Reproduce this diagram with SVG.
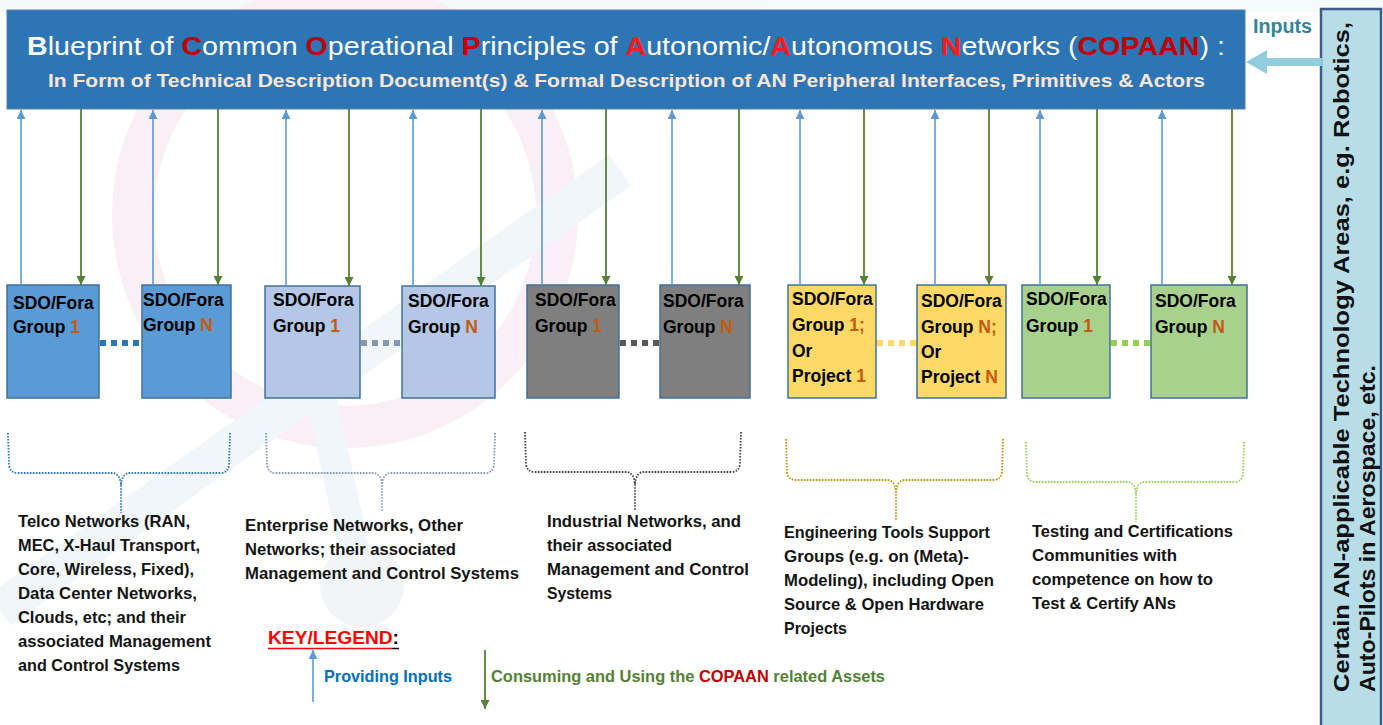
<svg xmlns="http://www.w3.org/2000/svg" width="1383" height="725" viewBox="0 0 1383 725">
<style>
.t1{font-family:"Liberation Sans",Arial,sans-serif;font-size:26px;fill:#FFFFFF}
.t2{font-family:"Liberation Sans",Arial,sans-serif;font-size:19px;font-weight:bold;fill:#FBE5D6}
.bw{font-weight:bold}
.r1{font-weight:bold;fill:#C00000}
.r2{font-weight:bold;fill:#FF1A1A}
.lbl{font-family:"Liberation Sans",Arial,sans-serif;font-size:17.5px;font-weight:bold;fill:#000}
.num{fill:#C55A11}
.desc{font-family:"Liberation Sans",Arial,sans-serif;font-size:16.5px;font-weight:bold;fill:#141414}
.vt{font-family:"Liberation Sans",Arial,sans-serif;font-size:22px;font-weight:bold;fill:#111}
.box{stroke:#41719C;stroke-width:1.5}
.up{stroke:#5B9BD5;stroke-width:1.6;fill:none}
.down{stroke:#548235;stroke-width:1.8;fill:none}
.dots{stroke-width:6;stroke-dasharray:6 5;fill:none}
.br{fill:none;stroke-width:1.8;stroke-dasharray:1.6 1.4}
</style>
<defs>
<marker id="ahBlue" viewBox="0 0 10 10" refX="10" refY="5" markerWidth="9" markerHeight="9" markerUnits="userSpaceOnUse" orient="auto"><path d="M0,0 L10,5 L0,10 z" fill="#5B9BD5"/></marker>
<marker id="ahGreen" viewBox="0 0 10 10" refX="10" refY="5" markerWidth="9" markerHeight="9" markerUnits="userSpaceOnUse" orient="auto"><path d="M0,0 L10,5 L0,10 z" fill="#548235"/></marker>
</defs>
<rect x="0" y="0" width="1383" height="725" fill="#FFFFFF"/>
<g id="watermark" opacity="0.35">
<rect x="0" y="0" width="1383" height="12" fill="#E3F0F2"/>
<circle cx="345" cy="215" r="212" fill="none" stroke="#F3D3E2" stroke-width="42"/>
<line x1="0" y1="610" x2="620" y2="170" stroke="#D6E6EE" stroke-width="38"/>
<line x1="300" y1="300" x2="362" y2="585" stroke="#D6E6EE" stroke-width="30"/>
<circle cx="362" cy="585" r="42" fill="#D9E4EC"/>
</g>
<g id="title">
<rect x="7" y="10" width="1238" height="99" fill="#2E75B6" stroke="#5B7FA6" stroke-width="1"/>
<text class="t1" x="27" y="55" textLength="1198" lengthAdjust="spacingAndGlyphs"><tspan class="bw">B</tspan>lueprint of <tspan class="r1">C</tspan>ommon <tspan class="r1">O</tspan>perational <tspan class="r1">P</tspan>rinciples of <tspan class="r2">A</tspan>utonomic/<tspan class="r2">A</tspan>utonomous <tspan class="r2">N</tspan>etworks (<tspan class="r1">COPAAN</tspan>) :</text>
<text class="t2" x="48" y="87" textLength="1157" lengthAdjust="spacingAndGlyphs">In Form of Technical Description Document(s) &amp; Formal Description of AN Peripheral Interfaces, Primitives &amp; Actors</text>
</g>
<g id="inputs-label">
<text x="1253" y="33" textLength="59" lengthAdjust="spacingAndGlyphs" style="font-family:'Liberation Sans',Arial,sans-serif;font-size:20px;font-weight:bold;fill:#31849B">Inputs</text>
</g>
<g id="tech-areas">
<rect x="1321" y="9" width="60" height="720" fill="#B7DEE8" stroke="#3E5C8A" stroke-width="2.5"/>
<text class="vt" transform="translate(1349,692) rotate(-90)" textLength="670" lengthAdjust="spacingAndGlyphs">Certain AN-applicable Technology Areas, e.g. Robotics,</text>
<text class="vt" transform="translate(1375,692) rotate(-90)" textLength="327" lengthAdjust="spacingAndGlyphs">Auto-Pilots in Aerospace, etc.</text>
</g>
<g id="box-telco-1"><rect class="box" x="7" y="285" width="92" height="113" fill="#5B9BD5"/><text class="lbl" x="13" y="309">SDO/Fora</text><text class="lbl" x="13" y="333">Group <tspan class="num">1</tspan></text></g>
<g id="box-telco-n"><rect class="box" x="142" y="285" width="89" height="113" fill="#5B9BD5"/><text class="lbl" x="143" y="306">SDO/Fora</text><text class="lbl" x="143" y="331">Group <tspan class="num">N</tspan></text></g>
<g id="box-ent-1"><rect class="box" x="265" y="286" width="95" height="112" fill="#B4C7E7"/><text class="lbl" x="273" y="306">SDO/Fora</text><text class="lbl" x="273" y="332">Group <tspan class="num">1</tspan></text></g>
<g id="box-ent-n"><rect class="box" x="402" y="286" width="93" height="112" fill="#B4C7E7"/><text class="lbl" x="408" y="307">SDO/Fora</text><text class="lbl" x="408" y="333">Group <tspan class="num">N</tspan></text></g>
<g id="box-ind-1"><rect class="box" x="527" y="285" width="92" height="113" fill="#7F7F7F"/><text class="lbl" x="535" y="306">SDO/Fora</text><text class="lbl" x="535" y="332">Group <tspan class="num">1</tspan></text></g>
<g id="box-ind-n"><rect class="box" x="660" y="285" width="90" height="113" fill="#7F7F7F"/><text class="lbl" x="663" y="307">SDO/Fora</text><text class="lbl" x="663" y="333">Group <tspan class="num">N</tspan></text></g>
<g id="box-eng-1"><rect class="box" x="788" y="285" width="88" height="113" fill="#FFD966"/><text class="lbl" x="792" y="305">SDO/Fora</text><text class="lbl" x="792" y="331">Group <tspan class="num">1;</tspan></text><text class="lbl" x="792" y="357">Or</text><text class="lbl" x="792" y="382">Project <tspan class="num">1</tspan></text></g>
<g id="box-eng-n"><rect class="box" x="917" y="285" width="89" height="113" fill="#FFD966"/><text class="lbl" x="921" y="307">SDO/Fora</text><text class="lbl" x="921" y="333">Group <tspan class="num">N;</tspan></text><text class="lbl" x="921" y="358">Or</text><text class="lbl" x="921" y="383">Project <tspan class="num">N</tspan></text></g>
<g id="box-test-1"><rect class="box" x="1022" y="285" width="88" height="113" fill="#A9D18E"/><text class="lbl" x="1026" y="305">SDO/Fora</text><text class="lbl" x="1026" y="332">Group <tspan class="num">1</tspan></text></g>
<g id="box-test-n"><rect class="box" x="1151" y="285" width="96" height="113" fill="#A9D18E"/><text class="lbl" x="1155" y="307">SDO/Fora</text><text class="lbl" x="1155" y="333">Group <tspan class="num">N</tspan></text></g>
<g id="desc-telco">
<text class="desc" x="18" y="527" textLength="172" lengthAdjust="spacingAndGlyphs">Telco Networks (RAN,</text>
<text class="desc" x="18" y="551" textLength="182" lengthAdjust="spacingAndGlyphs">MEC, X-Haul Transport,</text>
<text class="desc" x="18" y="575" textLength="176" lengthAdjust="spacingAndGlyphs">Core, Wireless, Fixed),</text>
<text class="desc" x="18" y="599" textLength="179" lengthAdjust="spacingAndGlyphs">Data Center Networks,</text>
<text class="desc" x="18" y="623" textLength="168" lengthAdjust="spacingAndGlyphs">Clouds, etc; and their</text>
<text class="desc" x="18" y="647" textLength="193" lengthAdjust="spacingAndGlyphs">associated Management</text>
<text class="desc" x="18" y="671" textLength="162" lengthAdjust="spacingAndGlyphs">and Control Systems</text>
</g>
<g id="desc-enterprise">
<text class="desc" x="245" y="531" textLength="218" lengthAdjust="spacingAndGlyphs">Enterprise Networks, Other</text>
<text class="desc" x="245" y="555" textLength="211" lengthAdjust="spacingAndGlyphs">Networks; their associated</text>
<text class="desc" x="245" y="579" textLength="274" lengthAdjust="spacingAndGlyphs">Management and Control Systems</text>
</g>
<g id="desc-industrial">
<text class="desc" x="547" y="527" textLength="194" lengthAdjust="spacingAndGlyphs">Industrial Networks, and</text>
<text class="desc" x="547" y="551" textLength="125" lengthAdjust="spacingAndGlyphs">their associated</text>
<text class="desc" x="547" y="575" textLength="202" lengthAdjust="spacingAndGlyphs">Management and Control</text>
<text class="desc" x="547" y="599" textLength="65" lengthAdjust="spacingAndGlyphs">Systems</text>
</g>
<g id="desc-engineering">
<text class="desc" x="784" y="538" textLength="206" lengthAdjust="spacingAndGlyphs">Engineering Tools Support</text>
<text class="desc" x="784" y="562" textLength="185" lengthAdjust="spacingAndGlyphs">Groups (e.g. on (Meta)-</text>
<text class="desc" x="784" y="586" textLength="210" lengthAdjust="spacingAndGlyphs">Modeling), including Open</text>
<text class="desc" x="784" y="610" textLength="200" lengthAdjust="spacingAndGlyphs">Source &amp; Open Hardware</text>
<text class="desc" x="784" y="634" textLength="63" lengthAdjust="spacingAndGlyphs">Projects</text>
</g>
<g id="desc-testing">
<text class="desc" x="1032" y="537" textLength="201" lengthAdjust="spacingAndGlyphs">Testing and Certifications</text>
<text class="desc" x="1032" y="561" textLength="145" lengthAdjust="spacingAndGlyphs">Communities with</text>
<text class="desc" x="1032" y="585" textLength="181" lengthAdjust="spacingAndGlyphs">competence on how to</text>
<text class="desc" x="1032" y="609" textLength="144" lengthAdjust="spacingAndGlyphs">Test &amp; Certify ANs</text>
</g>
<g id="legend">
<text x="268" y="644" style="font-family:'Liberation Sans',Arial,sans-serif;font-size:19px;font-weight:bold" textLength="131" lengthAdjust="spacingAndGlyphs"><tspan fill="#FF0000">KEY/LEGEND</tspan><tspan fill="#000">:</tspan></text>
<line x1="268" y1="648.5" x2="392" y2="648.5" stroke="#FF0000" stroke-width="1.5"/>
<line x1="392" y1="648.5" x2="399" y2="648.5" stroke="#000" stroke-width="1.5"/>
<line class="up" x1="313" y1="702" x2="313" y2="650" marker-end="url(#ahBlue)"/>
<text x="324" y="682" textLength="128" lengthAdjust="spacingAndGlyphs" style="font-family:'Liberation Sans',Arial,sans-serif;font-size:16.5px;font-weight:bold;fill:#0070C0">Providing Inputs</text>
<line class="down" x1="485" y1="650" x2="485" y2="709" marker-end="url(#ahGreen)"/>
<text x="491" y="682" textLength="394" lengthAdjust="spacingAndGlyphs" style="font-family:'Liberation Sans',Arial,sans-serif;font-size:16.5px;font-weight:bold;fill:#538135">Consuming and Using the  <tspan fill="#C00000">COPAAN</tspan> related Assets</text>
</g>
<g id="connectors">
<path d="M1267,58 L1322,58 L1322,66 L1267,66 L1267,74 L1246,62 L1267,50 Z" fill="#92CDDC"/>
<line class="up" x1="21" y1="285" x2="21" y2="110" marker-end="url(#ahBlue)"/>
<line class="up" x1="153" y1="285" x2="153" y2="110" marker-end="url(#ahBlue)"/>
<line class="up" x1="286" y1="286" x2="286" y2="110" marker-end="url(#ahBlue)"/>
<line class="up" x1="413" y1="286" x2="413" y2="110" marker-end="url(#ahBlue)"/>
<line class="up" x1="542" y1="285" x2="542" y2="110" marker-end="url(#ahBlue)"/>
<line class="up" x1="672" y1="285" x2="672" y2="110" marker-end="url(#ahBlue)"/>
<line class="up" x1="800" y1="285" x2="800" y2="110" marker-end="url(#ahBlue)"/>
<line class="up" x1="935" y1="285" x2="935" y2="110" marker-end="url(#ahBlue)"/>
<line class="up" x1="1040" y1="285" x2="1040" y2="110" marker-end="url(#ahBlue)"/>
<line class="up" x1="1162" y1="285" x2="1162" y2="110" marker-end="url(#ahBlue)"/>
<line class="down" x1="81" y1="109" x2="81" y2="285" marker-end="url(#ahGreen)"/>
<line class="down" x1="218" y1="109" x2="218" y2="285" marker-end="url(#ahGreen)"/>
<line class="down" x1="349" y1="109" x2="349" y2="286" marker-end="url(#ahGreen)"/>
<line class="down" x1="481" y1="109" x2="481" y2="286" marker-end="url(#ahGreen)"/>
<line class="down" x1="606" y1="109" x2="606" y2="285" marker-end="url(#ahGreen)"/>
<line class="down" x1="739" y1="109" x2="739" y2="285" marker-end="url(#ahGreen)"/>
<line class="down" x1="864" y1="109" x2="864" y2="285" marker-end="url(#ahGreen)"/>
<line class="down" x1="989" y1="109" x2="989" y2="285" marker-end="url(#ahGreen)"/>
<line class="down" x1="1097" y1="109" x2="1097" y2="285" marker-end="url(#ahGreen)"/>
<line class="down" x1="1232" y1="109" x2="1232" y2="285" marker-end="url(#ahGreen)"/>
<line class="dots" x1="100" y1="343" x2="141" y2="343" stroke="#2E75B6"/>
<line class="dots" x1="361" y1="343" x2="401" y2="343" stroke="#8497B0"/>
<line class="dots" x1="620" y1="343" x2="659" y2="343" stroke="#595959"/>
<line class="dots" x1="877" y1="343" x2="916" y2="343" stroke="#FFD966"/>
<line class="dots" x1="1111" y1="343" x2="1150" y2="343" stroke="#92D050"/>
<path class="br" stroke="#2E75B6" d="M8,433 L9,465 Q10,473 18,473 L113,473 Q120,474 121,485 L121,513 M230,433 L229,465 Q228,473 220,473 L129,473 Q122,474 121,485"/>
<path class="br" stroke="#8497B0" d="M266,433 L267,465 Q268,473 276,473 L374,473 Q381,474 382,485 L382,512 M495,433 L494,465 Q493,473 485,473 L390,473 Q383,474 382,485"/>
<path class="br" stroke="#404040" d="M525,432 L526,464 Q527,472 535,472 L627,472 Q634,473 635,484 L635,510 M741,432 L740,464 Q739,472 731,472 L643,472 Q636,473 635,484"/>
<path class="br" stroke="#BF9000" d="M786,439 L787,472 Q788,480 796,480 L888,480 Q895,481 896,492 L896,520 M1003,439 L1002,472 Q1001,480 993,480 L904,480 Q897,481 896,492"/>
<path class="br" stroke="#92D050" d="M1026,442 L1027,474 Q1028,482 1036,482 L1128,482 Q1135,483 1136,494 L1136,522 M1244,442 L1243,474 Q1242,482 1234,482 L1144,482 Q1137,483 1136,494"/>
</g>
</svg>
